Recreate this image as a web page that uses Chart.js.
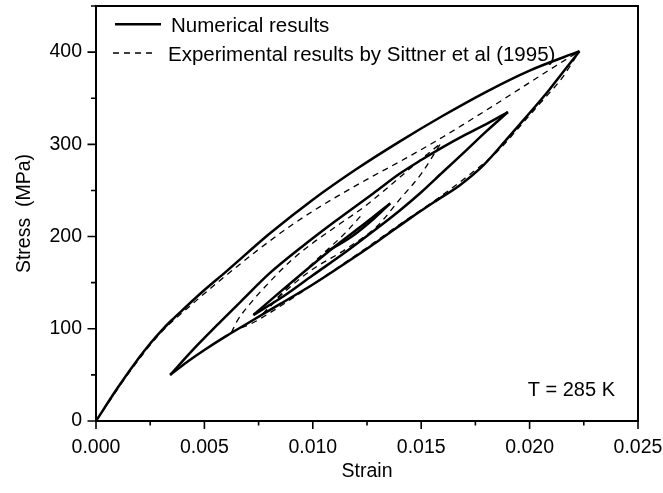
<!DOCTYPE html>
<html>
<head>
<meta charset="utf-8">
<script src="https://cdn.jsdelivr.net/npm/chart.js@4.4.0/dist/chart.umd.min.js"></script>
<style>
  html, body { margin: 0; padding: 0; background: #fff; }
  #wrap { width: 663px; height: 493px; }
</style>
</head>
<body>
<div id="wrap"><canvas id="stressChart" width="663" height="493"></canvas></div>
<script>
'use strict';

// Axis ticks
var xTicks = [0, 0.005, 0.010, 0.015, 0.020, 0.025];
var xMinorTicks = [0.0025, 0.0075, 0.0125, 0.0175, 0.0225];
var yTicks = [0, 100, 200, 300, 400];
var yMinorTicks = [50, 150, 250, 350, 450];

// Numerical results (solid) - each branch ordered by strain
var numLoadStrain = [0, 0.001, 0.002, 0.0025, 0.003, 0.0035, 0.004, 0.005, 0.006, 0.008, 0.010, 0.012, 0.014, 0.016, 0.018, 0.020, 0.0223];
var numLoadStress = [0, 36, 69, 84, 97.5, 109.5, 120.5, 142, 162, 203, 240, 273, 303, 331, 357, 380, 401];

var numUnload1Strain = [0.00342, 0.0042, 0.0050, 0.0060, 0.0070, 0.0085, 0.0100, 0.0115, 0.0130, 0.0145, 0.0157, 0.0168, 0.0179, 0.0190, 0.0200, 0.0209, 0.0216, 0.0223];
var numUnload1Stress = [50, 64, 77, 92, 106, 127, 148, 171, 195, 220, 239, 256, 278, 307, 334, 359, 380, 401];

var numReload1Strain = [0.00342, 0.0045, 0.0055, 0.0067, 0.0080, 0.0095, 0.0110, 0.0128, 0.0140, 0.0150, 0.0160, 0.0170, 0.0180, 0.0190];
var numReload1Stress = [50, 78, 102, 130, 160, 189, 216, 247, 268, 283, 297, 310, 322, 335];

var numUnload2Strain = [0.00726, 0.0087, 0.0100, 0.0115, 0.0128, 0.0140, 0.0150, 0.0160, 0.0171, 0.0180, 0.0190];
var numUnload2Stress = [115, 136, 158, 183, 206, 228, 248, 270, 294, 314, 335];

var numReload2Strain = [0.00726, 0.0090, 0.0110, 0.0125, 0.01357];
var numReload2Stress = [115, 150, 189, 216, 236];

var numUnload3Strain = [0.0106, 0.0118, 0.0128, 0.01357];
var numUnload3Stress = [183, 200, 219, 236];

// Experimental results (dashed)
var expLoadStrain = [0, 0.0017, 0.0030, 0.0045, 0.0058, 0.0075, 0.0090, 0.0101, 0.0113, 0.0125, 0.0143, 0.0160, 0.0180, 0.0200, 0.0212, 0.0223];
var expLoadStress = [0, 58, 96, 128, 154, 186, 212, 229, 246, 262, 285, 308, 337, 367, 385, 401];

var expUnload1Strain = [0.00625, 0.0065, 0.0072, 0.0082, 0.0095, 0.0110, 0.0125, 0.0140, 0.0155, 0.0165, 0.0175, 0.0185, 0.0195, 0.0205, 0.0215, 0.0223];
var expUnload1Stress = [96, 99, 106, 120, 140, 164, 188, 213, 237, 254, 272, 292, 318, 345, 372, 401];

var expReload1Strain = [0.00625, 0.0065, 0.0071, 0.0081, 0.0090, 0.0100, 0.0112, 0.0123, 0.0135, 0.0148, 0.0159];
var expReload1Stress = [96, 108, 127, 153, 174, 193, 213, 231, 254, 280, 301];

var expUnload2Strain = [0.0077, 0.0087, 0.0099, 0.0115, 0.0130, 0.0140, 0.0150, 0.0159];
var expUnload2Stress = [116, 140, 163, 186, 212, 240, 268, 301];

var expReload2Strain = [0.0077, 0.0085, 0.0095, 0.0105, 0.0115, 0.0122];
var expReload2Stress = [116, 137, 160, 182, 204, 222];

var numLabel = 'Numerical results';
var expLabel = 'Experimental results by Sittner et al (1995)';
var noteText = 'T = 285 K';

var FONT = 'Liberation Sans, Arial, Helvetica, sans-serif';

function pts(xs, ys) {
  return xs.map(function(v, i) { return { x: v, y: ys[i] }; });
}

function solid(xs, ys, label) {
  return {
    label: label || '', data: pts(xs, ys),
    borderColor: '#000', borderWidth: 2.5, borderDash: [],
    pointRadius: 0, fill: false, showLine: true,
    cubicInterpolationMode: 'monotone'
  };
}

function dashed(xs, ys, label) {
  return {
    label: label || '', data: pts(xs, ys),
    borderColor: '#000', borderWidth: 1.3, borderDash: [6, 5],
    pointRadius: 0, fill: false, showLine: true,
    cubicInterpolationMode: 'monotone'
  };
}

var datasets = [
  solid(numLoadStrain, numLoadStress, numLabel),
  solid(numUnload1Strain, numUnload1Stress),
  solid(numReload1Strain, numReload1Stress),
  solid(numUnload2Strain, numUnload2Stress),
  solid(numReload2Strain, numReload2Stress),
  solid(numUnload3Strain, numUnload3Stress),
  dashed(expLoadStrain, expLoadStress, expLabel),
  dashed(expUnload1Strain, expUnload1Stress),
  dashed(expReload1Strain, expReload1Stress),
  dashed(expUnload2Strain, expUnload2Stress),
  dashed(expReload2Strain, expReload2Stress)
];

// Frame, tick marks, legend and note
var framePlugin = {
  id: 'frame',
  afterDraw: function(chart) {
    var ctx = chart.ctx, a = chart.chartArea;
    var xs = chart.scales.x, ys = chart.scales.y;
    ctx.save();
    ctx.strokeStyle = '#000';
    ctx.lineWidth = 2;
    ctx.strokeRect(a.left, a.top, a.right - a.left, a.bottom - a.top);

    ctx.lineWidth = 1.6;
    ctx.beginPath();
    xTicks.forEach(function(v) {
      var p = xs.getPixelForValue(v);
      ctx.moveTo(p, a.bottom); ctx.lineTo(p, a.bottom + 8);
    });
    xMinorTicks.forEach(function(v) {
      var p = xs.getPixelForValue(v);
      ctx.moveTo(p, a.bottom); ctx.lineTo(p, a.bottom + 4.5);
    });
    yTicks.forEach(function(v) {
      var p = ys.getPixelForValue(v);
      ctx.moveTo(a.left, p); ctx.lineTo(a.left - 8.5, p);
    });
    yMinorTicks.forEach(function(v) {
      var p = ys.getPixelForValue(v);
      ctx.moveTo(a.left, p); ctx.lineTo(a.left - 5, p);
    });
    ctx.stroke();

    // legend
    ctx.fillStyle = '#000';
    ctx.font = '20.5px ' + FONT;
    ctx.textBaseline = 'alphabetic';
    ctx.textAlign = 'left';
    var items = chart.data.datasets.filter(function(d) { return d.label; });
    items.forEach(function(d, i) {
      var ly = a.top + 18.3 + i * 28.7;
      var dash = d.borderDash && d.borderDash.length;
      ctx.lineWidth = d.borderWidth;
      ctx.setLineDash(d.borderDash || []);
      ctx.beginPath();
      ctx.moveTo(a.left + (dash ? 17 : 19), ly);
      ctx.lineTo(a.left + (dash ? 57 : 65), ly);
      ctx.stroke();
      ctx.setLineDash([]);
      ctx.fillText(d.label, a.left + (dash ? 72 : 75), ly + 7.8);
    });

    ctx.font = '20px ' + FONT;
    ctx.textAlign = 'right';
    ctx.fillText(noteText, a.right - 23, a.bottom - 25.5);
    ctx.restore();
  }
};

function noPadding(s) {
  s.paddingTop = 0; s.paddingBottom = 0;
  s.paddingLeft = 0; s.paddingRight = 0;
}

new Chart(document.getElementById('stressChart'), {
  type: 'scatter',
  data: { datasets: datasets },
  options: {
    responsive: false,
    animation: false,
    layout: { padding: { left: 0, right: 25, top: 6, bottom: 0 } },
    plugins: {
      legend: { display: false },
      tooltip: { enabled: false }
    },
    scales: {
      x: {
        type: 'linear', min: 0, max: 0.025,
        afterBuildTicks: function(s) { s.ticks = xTicks.map(function(v) { return { value: v }; }); },
        afterFit: function(s) { s.height = 72; noPadding(s); },
        grid: { display: false, drawTicks: false },
        border: { display: true, color: '#000', width: 2 },
        ticks: {
          color: '#000', padding: 15, maxRotation: 0,
          font: { family: FONT, size: 19.5 },
          callback: function(v) { return Number(v).toFixed(3); }
        },
        title: {
          display: true, text: 'Strain', color: '#000',
          font: { family: FONT, size: 19.5 },
          padding: { top: 0, bottom: 10 }
        }
      },
      y: {
        type: 'linear', min: 0, max: 450,
        afterBuildTicks: function(s) { s.ticks = yTicks.map(function(v) { return { value: v }; }); },
        afterFit: function(s) { s.width = 96; noPadding(s); },
        grid: { display: false, drawTicks: false },
        border: { display: true, color: '#000', width: 2 },
        ticks: {
          color: '#000', padding: 14,
          font: { family: FONT, size: 19.5 },
          callback: function(v) { return String(v); }
        },
        title: {
          display: true, text: 'Stress  (MPa)', color: '#000',
          font: { family: FONT, size: 19.5 },
          padding: { top: 13, bottom: 0 }
        }
      }
    }
  },
  plugins: [framePlugin]
});
</script>
</body>
</html>
